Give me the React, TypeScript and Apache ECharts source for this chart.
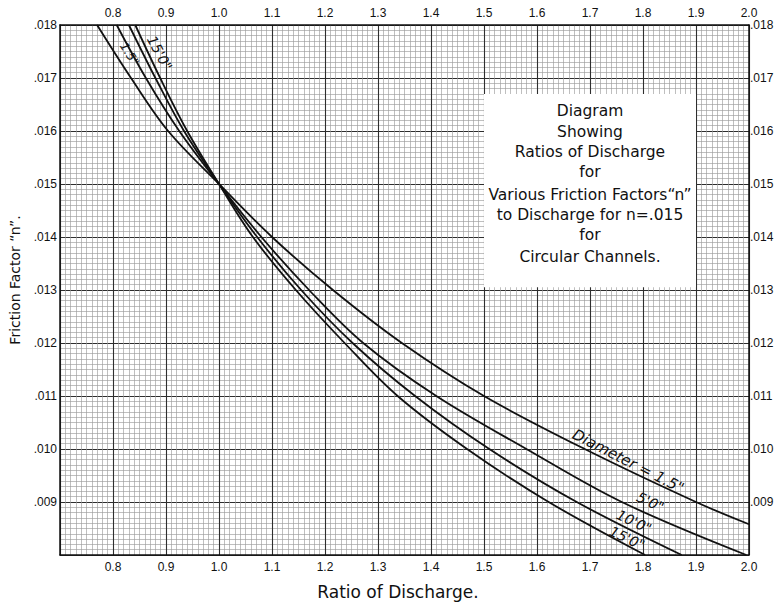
import React, { useEffect, useRef } from 'react';
import * as echarts from 'echarts';

// Friction factor "n" levels (y) and ratio of discharge (x) read for each diameter
const n1p5in = [0.018, 0.017, 0.016, 0.015, 0.014, 0.013, 0.012, 0.011, 0.010, 0.009, 0.00858];
const ratio1p5in = [0.770, 0.834, 0.904, 1.0, 1.100, 1.215, 1.345, 1.50, 1.69, 1.90, 2.0];

const n5ft = [0.018, 0.017, 0.016, 0.015, 0.014, 0.013, 0.012, 0.011, 0.010, 0.009, 0.008];
const ratio5ft = [0.807, 0.862, 0.925, 1.0, 1.080, 1.170, 1.272, 1.41, 1.58, 1.76, 1.995];

const n10ft = [0.018, 0.017, 0.016, 0.015, 0.014, 0.013, 0.012, 0.011, 0.010, 0.009, 0.008];
const ratio10ft = [0.830, 0.880, 0.934, 1.0, 1.072, 1.155, 1.252, 1.37, 1.51, 1.675, 1.873];

const n15ft = [0.018, 0.017, 0.016, 0.015, 0.014, 0.013, 0.012, 0.011, 0.010, 0.009, 0.008];
const ratio15ft = [0.842, 0.889, 0.940, 1.0, 1.064, 1.145, 1.237, 1.337, 1.468, 1.622, 1.804];

const xTickLabels = ['0.8', '0.9', '1.0', '1.1', '1.2', '1.3', '1.4', '1.5', '1.6', '1.7', '1.8', '1.9', '2.0'];
const yTickLabels = ['.018', '.017', '.016', '.015', '.014', '.013', '.012', '.011', '.010', '.009'];

const boxLines = [
  'Diagram',
  'Showing',
  'Ratios of Discharge',
  'for',
  'Various Friction Factors\u201Cn\u201D',
  'to Discharge for n=.015',
  'for',
  'Circular Channels.',
];

const curveLabels = [
  { text: 'Diameter = 1.5"', at: [1.772, 0.00977], rot: -27, size: 15 },
  { text: '5\'0"', at: [1.814, 0.0090], rot: -25, size: 14 },
  { text: '10\'0"', at: [1.783, 0.00863], rot: -25, size: 14 },
  { text: '15\'0"', at: [1.770, 0.00832], rot: -25, size: 14 },
  { text: '15\'0"', at: [0.888, 0.01747], rot: -62, size: 14 },
  { text: '1.5"', at: [0.831, 0.01745], rot: -58, size: 12 },
];

const FONT = '"DejaVu Sans", "Noto Sans", sans-serif';
const TICKFONT = '"Liberation Sans Narrow", "Liberation Sans", sans-serif';

function pairs(xs: number[], ys: number[]) {
  return xs.map((x, i) => [x, ys[i]]);
}

const xFmt = (v: number) => {
  const i = Math.round((v - 0.8) * 10);
  return i >= 0 && i < xTickLabels.length ? xTickLabels[i] : '';
};
const yFmt = (v: number) => {
  const i = Math.round((0.018 - v) * 1000);
  return i >= 0 && i < yTickLabels.length ? yTickLabels[i] : '';
};

export default function App() {
  const ref = useRef<HTMLDivElement>(null);
  useEffect(() => {
    if (!ref.current) return;
    const chart = echarts.init(ref.current, undefined, { renderer: 'svg' });
    const lineStyle = { color: '#111', width: 1.8 };
    const mkSeries = (name: string, xs: number[], ys: number[]) => ({
      type: 'line',
      name,
      data: pairs(xs, ys),
      smooth: 0.35,
      showSymbol: false,
      symbol: 'none',
      lineStyle,
      itemStyle: { color: '#111' },
      z: 3,
    });
    const axisCommon = {
      type: 'value',
      axisLine: { show: true, lineStyle: { color: '#111', width: 1.5 } },
      axisTick: { show: false },
    };
    chart.setOption({
      animation: false,
      backgroundColor: '#ffffff',
      grid: { left: 60, right: 29, top: 25, bottom: 49, containLabel: false },
      xAxis: [
        {
          ...axisCommon,
          position: 'bottom',
          min: 0.7,
          max: 2.0,
          interval: 0.1,
          axisLabel: { formatter: xFmt, margin: 6, fontSize: 12, color: '#111', fontFamily: TICKFONT },
          splitLine: { show: true, lineStyle: { color: '#2e2e2e', width: 1.1 } },
          minorTick: { show: false, splitNumber: 10 },
          minorSplitLine: { show: true, lineStyle: { color: '#9c9c9c', width: 0.65 } },
        },
        {
          ...axisCommon,
          position: 'top',
          min: 0.7,
          max: 2.0,
          interval: 0.1,
          axisLabel: { formatter: xFmt, margin: 6, fontSize: 12, color: '#111', fontFamily: TICKFONT },
          splitLine: { show: false },
        },
      ],
      yAxis: [
        {
          ...axisCommon,
          position: 'left',
          min: 0.008,
          max: 0.018,
          interval: 0.001,
          axisLabel: { formatter: yFmt, margin: 3, fontSize: 12, color: '#111', fontFamily: TICKFONT },
          splitLine: { show: true, lineStyle: { color: '#2e2e2e', width: 1.1 } },
          minorTick: { show: false, splitNumber: 10 },
          minorSplitLine: { show: true, lineStyle: { color: '#9c9c9c', width: 0.65 } },
        },
        {
          ...axisCommon,
          position: 'right',
          min: 0.008,
          max: 0.018,
          interval: 0.001,
          axisLabel: { formatter: yFmt, margin: 1, fontSize: 12, color: '#111', fontFamily: TICKFONT },
          splitLine: { show: false },
        },
      ],
      series: [
        mkSeries('Diameter = 1.5"', ratio1p5in, n1p5in),
        mkSeries('5\'0"', ratio5ft, n5ft),
        mkSeries('10\'0"', ratio10ft, n10ft),
        mkSeries('15\'0"', ratio15ft, n15ft),
      ],
    });

    const toPx = (p: number[]) => chart.convertToPixel({ seriesIndex: 0 }, p) as number[];
    const boxTL = toPx([1.5, 0.0167]);
    const boxBR = toPx([1.9, 0.01305]);
    const boxCx = (boxTL[0] + boxBR[0]) / 2;
    const boxLineY = [111, 132, 152, 172, 195, 215, 235, 257];

    const graphics: any[] = [
      {
        type: 'rect',
        z: 50,
        shape: { x: boxTL[0], y: boxTL[1], width: boxBR[0] - boxTL[0], height: boxBR[1] - boxTL[1] },
        style: { fill: '#ffffff', stroke: null },
      },
      ...boxLines.map((t, i) => ({
        type: 'text',
        z: 51,
        x: boxCx,
        y: boxLineY[i],
        style: {
          text: t,
          fill: '#111',
          font: `15.5px ${FONT}`,
          align: 'center',
          verticalAlign: 'middle',
        },
      })),
      ...curveLabels.map((l) => {
        const p = toPx(l.at);
        return {
          type: 'text',
          z: 52,
          x: p[0],
          y: p[1],
          rotation: (l.rot * Math.PI) / 180,
          style: {
            text: l.text,
            fill: '#111',
            font: `italic ${l.size}px ${FONT}`,
            align: 'center',
            verticalAlign: 'middle',
          },
        };
      }),
      {
        type: 'text',
        z: 52,
        x: 398,
        y: 592,
        style: {
          text: 'Ratio of Discharge.',
          fill: '#111',
          font: `17px ${FONT}`,
          align: 'center',
          verticalAlign: 'middle',
        },
      },
      {
        type: 'text',
        z: 52,
        x: 15,
        y: 280,
        rotation: Math.PI / 2,
        style: {
          text: 'Friction Factor \u201Cn\u201D.',
          fill: '#111',
          font: `14px ${FONT}`,
          align: 'center',
          verticalAlign: 'middle',
        },
      },
    ];
    chart.setOption({ graphic: graphics });

    return () => chart.dispose();
  }, []);

  return (
    <div
      ref={ref}
      style={{ position: 'fixed', left: 0, top: 0, width: 778, height: 604, background: '#fff' }}
    />
  );
}
